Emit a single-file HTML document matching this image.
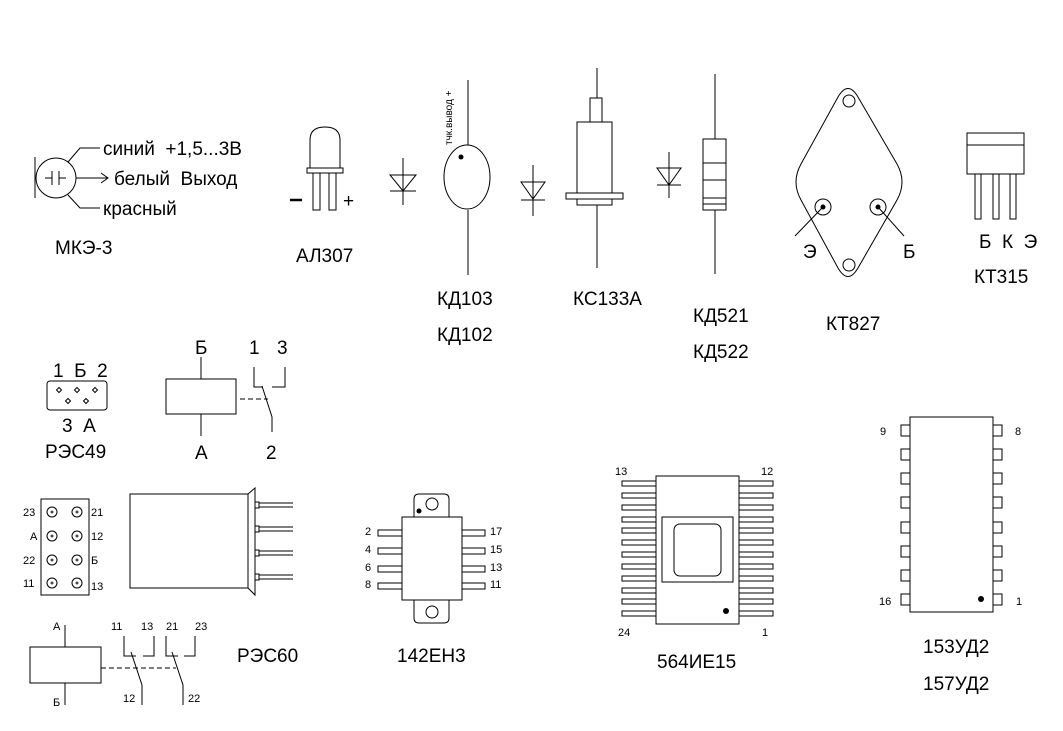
<!DOCTYPE html>
<html><head><meta charset="utf-8"><style>
body{margin:0;background:#fff}
svg{display:block}
text{font-family:"Liberation Sans",sans-serif;fill:#000;white-space:pre}
.l{font-size:19px}.s{font-size:11px}
</style></head><body>
<svg width="1063" height="731" viewBox="0 0 1063 731" xmlns="http://www.w3.org/2000/svg" xml:space="preserve">
<g fill="none" stroke="#000" stroke-width="1">
<line x1="35" y1="157" x2="35" y2="198"/>
<circle cx="56" cy="178" r="20"/>
<line x1="45" y1="178" x2="52" y2="178"/><line x1="52" y1="171" x2="52" y2="185"/>
<line x1="59" y1="171" x2="59" y2="185"/><line x1="59" y1="178" x2="66" y2="178"/>
<polyline points="68,162 80,148 100,148"/>
<line x1="76" y1="178" x2="108" y2="178"/><polyline points="101,173 108,178 101,183"/>
<polyline points="68,195 80,208 100,208"/>
<path d="M310,168 L310,140 Q310,127 325,127 Q340,127 340,140 L340,168"/>
<rect x="307" y="168" width="36" height="5"/>
<rect x="313" y="173" width="7" height="37"/><rect x="329" y="173" width="7" height="37"/>
<line x1="290" y1="200" x2="302" y2="200" stroke-width="2.5"/>
<line x1="403" y1="158" x2="403" y2="205"/>
<polygon points="390,175 416,175 403,191"/><line x1="390" y1="191" x2="416" y2="191"/>
<line x1="468" y1="80" x2="468" y2="145"/>
<ellipse cx="467" cy="177" rx="23" ry="32"/>
<line x1="468" y1="210" x2="468" y2="275"/>
<line x1="533" y1="165" x2="533" y2="216"/>
<polygon points="521,182 545,182 533,199"/><line x1="521" y1="200" x2="545" y2="200"/>
<line x1="597" y1="68" x2="597" y2="98"/>
<rect x="590" y="98" width="12" height="24"/>
<rect x="577" y="122" width="35" height="71"/>
<rect x="566" y="193" width="57" height="6"/>
<rect x="577" y="199" width="35" height="6"/>
<line x1="597" y1="205" x2="597" y2="268"/>
<line x1="669" y1="152" x2="669" y2="198"/>
<polygon points="657,168 681,168 669,185"/><line x1="657" y1="185" x2="681" y2="185"/>
<line x1="715" y1="74" x2="715" y2="139"/>
<rect x="703" y="139" width="23" height="71"/>
<line x1="703" y1="163" x2="726" y2="163"/><line x1="703" y1="180" x2="726" y2="180"/>
<line x1="703" y1="198" x2="726" y2="198"/><line x1="703" y1="204" x2="726" y2="204"/>
<line x1="715" y1="210" x2="715" y2="274"/>
<path d="M838,97 Q848,80 858,97 L897,164 Q907,182 897,200 L858,268 Q848,285 838,268 L801,200 Q791,182 801,164 Z"/>
<circle cx="849" cy="101" r="6"/><circle cx="849" cy="265" r="6"/>
<circle cx="823" cy="207" r="8"/><circle cx="878" cy="207" r="8"/>
<line x1="823" y1="207" x2="795" y2="236"/><line x1="878" y1="207" x2="904" y2="236"/>
<rect x="967" y="133" width="57" height="41"/><line x1="967" y1="145" x2="1024" y2="145"/>
<rect x="975" y="174" width="6" height="45"/><rect x="993" y="174" width="6" height="45"/><rect x="1010" y="174" width="6" height="45"/>
<rect x="47" y="381" width="60" height="29" rx="3"/>
<g transform="translate(59,390)"><polygon points="0,-2.5 2.5,0 0,2.5 -2.5,0"/></g>
<g transform="translate(77,390)"><polygon points="0,-2.5 2.5,0 0,2.5 -2.5,0"/></g>
<g transform="translate(95,390)"><polygon points="0,-2.5 2.5,0 0,2.5 -2.5,0"/></g>
<g transform="translate(68,401)"><polygon points="0,-2.5 2.5,0 0,2.5 -2.5,0"/></g>
<g transform="translate(86,401)"><polygon points="0,-2.5 2.5,0 0,2.5 -2.5,0"/></g>
<rect x="166" y="379" width="70" height="35"/>
<line x1="201" y1="357" x2="201" y2="379"/><line x1="201" y1="414" x2="201" y2="436"/>
<polyline points="254,367 254,387 263,387"/><polyline points="285,367 285,387 272,387"/>
<polyline points="262,386 272,417 272,432"/>
<line x1="240" y1="399" x2="268" y2="399" stroke-dasharray="5,3"/>
<rect x="41" y="499" width="48" height="96"/>
<circle cx="52" cy="512" r="5"/><circle cx="77" cy="512" r="5"/>
<circle cx="52" cy="536" r="5"/><circle cx="77" cy="536" r="5"/>
<circle cx="52" cy="560" r="5"/><circle cx="77" cy="560" r="5"/>
<circle cx="52" cy="583" r="5"/><circle cx="77" cy="583" r="5"/>
<rect x="130" y="494" width="118" height="94"/>
<polygon points="248,494 255,488 255,595 248,588"/>
<rect x="255" y="502" width="4" height="6"/><line x1="259" y1="503" x2="293" y2="503"/><line x1="259" y1="507" x2="293" y2="507"/>
<rect x="255" y="526" width="4" height="6"/><line x1="259" y1="527" x2="293" y2="527"/><line x1="259" y1="531" x2="293" y2="531"/>
<rect x="255" y="550" width="4" height="6"/><line x1="259" y1="551" x2="293" y2="551"/><line x1="259" y1="555" x2="293" y2="555"/>
<rect x="255" y="574" width="4" height="6"/><line x1="259" y1="575" x2="293" y2="575"/><line x1="259" y1="579" x2="293" y2="579"/>
<rect x="30" y="647" width="71" height="36"/>
<line x1="65" y1="625" x2="65" y2="647"/><line x1="65" y1="683" x2="65" y2="705"/>
<polyline points="124,636 124,656 136,656"/><polyline points="154,636 154,656 143,656"/>
<polyline points="166,636 166,656 178,656"/><polyline points="195,636 195,656 184,656"/>
<polyline points="131,652 142,685 142,705"/><polyline points="172,652 183,685 183,705"/>
<line x1="101" y1="668" x2="176" y2="668" stroke-dasharray="5,3"/>
<path d="M414,517 L414,499 Q414,494 419,494 L444,494 Q449,494 449,499 L449,517"/>
<path d="M414,600 L414,618 Q414,623 419,623 L444,623 Q449,623 449,618 L449,600"/>
<circle cx="432" cy="504" r="6"/><circle cx="432" cy="612" r="6"/>
<rect x="402" y="517" width="60" height="83"/>
<rect x="378" y="530" width="24" height="6"/><rect x="378" y="548" width="24" height="6"/>
<rect x="378" y="566" width="24" height="6"/><rect x="378" y="583" width="24" height="6"/>
<rect x="462" y="530" width="23" height="6"/><rect x="462" y="548" width="23" height="6"/>
<rect x="462" y="566" width="23" height="6"/><rect x="462" y="583" width="23" height="6"/>
<rect x="656" y="476" width="83" height="148"/>
<rect x="662" y="517" width="71" height="65"/>
<rect x="674" y="524" width="47" height="52" rx="6"/>
<g id="pl">
<rect x="622" y="481" width="34" height="5"/><rect x="622" y="493" width="34" height="5"/><rect x="622" y="505" width="34" height="5"/><rect x="622" y="517" width="34" height="5"/>
<rect x="622" y="528" width="34" height="5"/><rect x="622" y="540" width="34" height="5"/><rect x="622" y="552" width="34" height="5"/><rect x="622" y="564" width="34" height="5"/>
<rect x="622" y="576" width="34" height="5"/><rect x="622" y="588" width="34" height="5"/><rect x="622" y="599" width="34" height="5"/><rect x="622" y="611" width="34" height="5"/>
</g>
<use href="#pl" x="117"/>
<rect x="910" y="417" width="83" height="195"/>
<g id="pd">
<rect x="901" y="425" width="9" height="11"/><rect x="901" y="449" width="9" height="11"/><rect x="901" y="473" width="9" height="11"/><rect x="901" y="497" width="9" height="11"/>
<rect x="901" y="522" width="9" height="11"/><rect x="901" y="546" width="9" height="11"/><rect x="901" y="570" width="9" height="11"/><rect x="901" y="594" width="9" height="11"/>
</g>
<use href="#pd" x="92"/>
</g>
<g fill="#000">
<circle cx="461" cy="157" r="2.5"/>
<circle cx="823" cy="207" r="2.5"/><circle cx="878" cy="207" r="2.5"/>
<circle cx="419" cy="511" r="2.5"/>
<circle cx="726" cy="611" r="3"/>
<circle cx="981" cy="599" r="3"/>
</g>
<g fill="none" stroke="#000" stroke-width="0.8">
<circle cx="52" cy="512" r="1"/><circle cx="77" cy="512" r="1"/>
<circle cx="52" cy="536" r="1"/><circle cx="77" cy="536" r="1"/>
<circle cx="52" cy="560" r="1"/><circle cx="77" cy="560" r="1"/>
<circle cx="52" cy="583" r="1"/><circle cx="77" cy="583" r="1"/>
</g>
<text class="l" x="103" y="155">синий  +1,5...3В</text>
<text class="l" x="114" y="185">белый  Выход</text>
<text class="l" x="103" y="215">красный</text>
<text class="l" x="55" y="254">МКЭ-3</text>
<text class="l" x="343" y="207">+</text>
<text class="l" x="296" y="262">АЛ307</text>
<text style="font-size:10px" transform="translate(452,145) rotate(-90)">тчк.вывод +</text>
<text class="l" x="437" y="305">КД103</text>
<text class="l" x="437" y="341">КД102</text>
<text class="l" x="573" y="305">КС133А</text>
<text class="l" x="693" y="322">КД521</text>
<text class="l" x="693" y="358">КД522</text>
<text class="l" x="803" y="258">Э</text>
<text class="l" x="903" y="258">Б</text>
<text class="l" x="826" y="330">КТ827</text>
<text class="l" x="979" y="248">Б  К  Э</text>
<text class="l" x="974" y="283">КТ315</text>
<text class="l" x="53" y="377">1  Б  2</text>
<text class="l" x="62" y="432">3  А</text>
<text class="l" x="45" y="458">РЭС49</text>
<text class="l" x="195" y="354">Б</text>
<text class="l" x="249" y="354">1</text>
<text class="l" x="277" y="354">3</text>
<text class="l" x="195" y="459">А</text>
<text class="l" x="266" y="459">2</text>
<text class="s" x="23" y="516">23</text><text class="s" x="30" y="540">А</text>
<text class="s" x="23" y="564">22</text><text class="s" x="23" y="587">11</text>
<text class="s" x="91" y="516">21</text><text class="s" x="91" y="540">12</text>
<text class="s" x="91" y="564">Б</text><text class="s" x="91" y="590">13</text>
<text class="s" x="53" y="630">А</text><text class="s" x="53" y="706">Б</text>
<text class="s" x="111" y="630">11</text><text class="s" x="141" y="630">13</text>
<text class="s" x="166" y="630">21</text><text class="s" x="195" y="630">23</text>
<text class="s" x="123" y="702">12</text><text class="s" x="188" y="702">22</text>
<text class="l" x="237" y="662">РЭС60</text>
<text class="s" x="365" y="535">2</text><text class="s" x="365" y="553">4</text>
<text class="s" x="365" y="571">6</text><text class="s" x="365" y="588">8</text>
<text class="s" x="490" y="535">17</text><text class="s" x="490" y="553">15</text>
<text class="s" x="490" y="571">13</text><text class="s" x="490" y="588">11</text>
<text class="l" x="397" y="662">142ЕН3</text>
<text class="s" x="615" y="475">13</text><text class="s" x="761" y="475">12</text>
<text class="s" x="618" y="636">24</text><text class="s" x="762" y="636">1</text>
<text class="l" x="657" y="668">564ИЕ15</text>
<text class="s" x="880" y="435">9</text><text class="s" x="1015" y="435">8</text>
<text class="s" x="879" y="605">16</text><text class="s" x="1016" y="605">1</text>
<text class="l" x="923" y="653">153УД2</text>
<text class="l" x="923" y="690">157УД2</text>
</svg>
</body></html>
